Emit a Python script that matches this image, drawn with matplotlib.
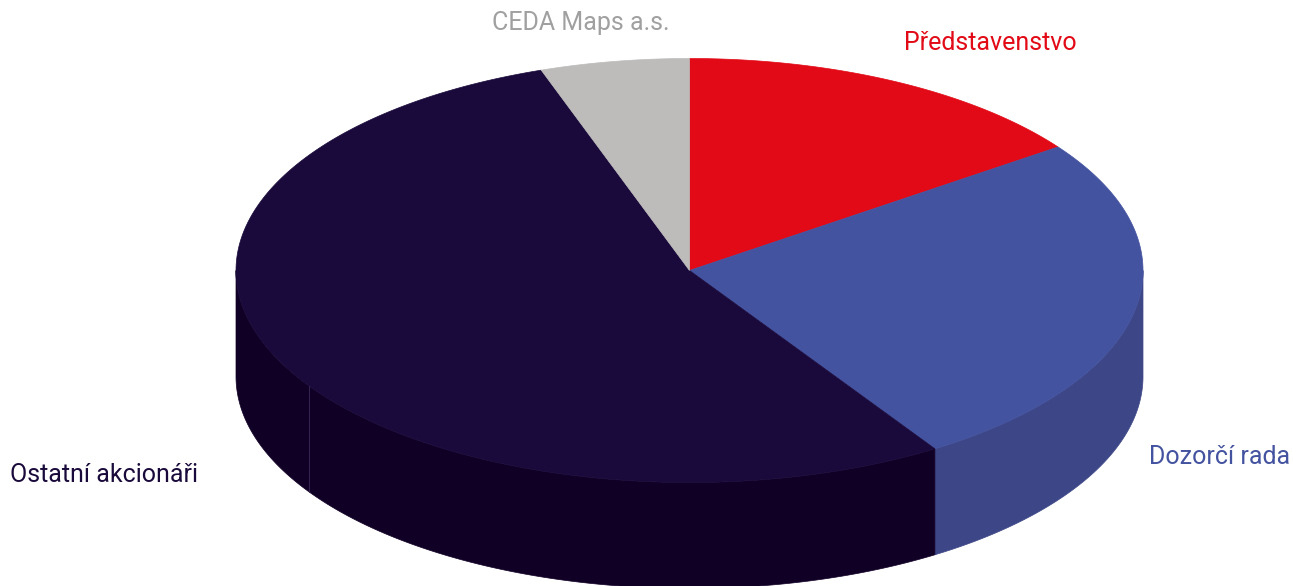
import numpy as np
import matplotlib
matplotlib.use("Agg")
import matplotlib.pyplot as plt
from matplotlib.patches import Polygon

# shares (percent), clockwise from 12 o'clock
labels = ["Představenstvo", "Dozorčí rada", "Ostatní akcionáři", "CEDA Maps a.s."]
shares = [15.1, 25.8, 53.8, 5.3]
top_colors = ["#e20a16", "#4453a0", "#1a0a3b", "#bdbcbb"]
side_colors = ["#b00812", "#3d4787", "#110026", "#9a9998"]
label_colors = ["#e20a16", "#4453a0", "#1a0a3b", "#a0a0a0"]

W, H = 1293, 586
cx, cy = 689.5, 270.5      # centre of the top face (pixels)
rx, ry = 453.5, 212.0      # radii of the top ellipse
depth = 106.0

fig = plt.figure(figsize=(W / 100, H / 100), dpi=100)
ax = fig.add_axes([0, 0, 1, 1])
ax.set_xlim(0, W)
ax.set_ylim(H, 0)
ax.axis("off")


def pt(theta, dz=0.0):
    # theta in degrees, clockwise from top
    t = np.radians(theta)
    return cx + rx * np.sin(t), cy - ry * np.cos(t) + dz


bounds = np.concatenate([[0], np.cumsum(shares) / np.sum(shares) * 360])

# side walls (only the front half, 90..270 deg, is visible)
for i in range(len(shares)):
    a0, a1 = max(bounds[i], 90), min(bounds[i + 1], 270)
    if a1 <= a0:
        continue
    th = np.linspace(a0, a1, 200)
    xs, ys = pt(th)
    xb, yb = pt(th[::-1], depth)
    poly = np.column_stack([np.concatenate([xs, xb]), np.concatenate([ys, yb])])
    ax.add_patch(Polygon(poly, closed=True, facecolor=side_colors[i],
                         edgecolor=side_colors[i], linewidth=0.5))

# faint seam in the big slice's wall, as in the original rendering
sx, sy = pt(237.0)
ax.plot([sx, sx], [sy, sy + depth], color="#3a2a5a", linewidth=0.6)

# top faces
for i in range(len(shares)):
    th = np.linspace(bounds[i], bounds[i + 1], 300)
    xs, ys = pt(th)
    poly = np.column_stack([np.concatenate([[cx], xs]), np.concatenate([[cy], ys])])
    ax.add_patch(Polygon(poly, closed=True, facecolor=top_colors[i],
                         edgecolor=top_colors[i], linewidth=0.5))

# labels
font = ["Roboto", "DejaVu Sans"]
ax.text(990, 43, labels[0], color=label_colors[0], fontsize=18, family=font,
        ha="center", va="center")
ax.text(1220, 457, labels[1], color=label_colors[1], fontsize=18, family=font,
        ha="center", va="center")
ax.text(104, 475, labels[2], color=label_colors[2], fontsize=18, family=font,
        ha="center", va="center")
ax.text(581, 23, labels[3], color=label_colors[3], fontsize=18, family=font,
        ha="center", va="center")

fig.savefig("out.png", dpi=100)
